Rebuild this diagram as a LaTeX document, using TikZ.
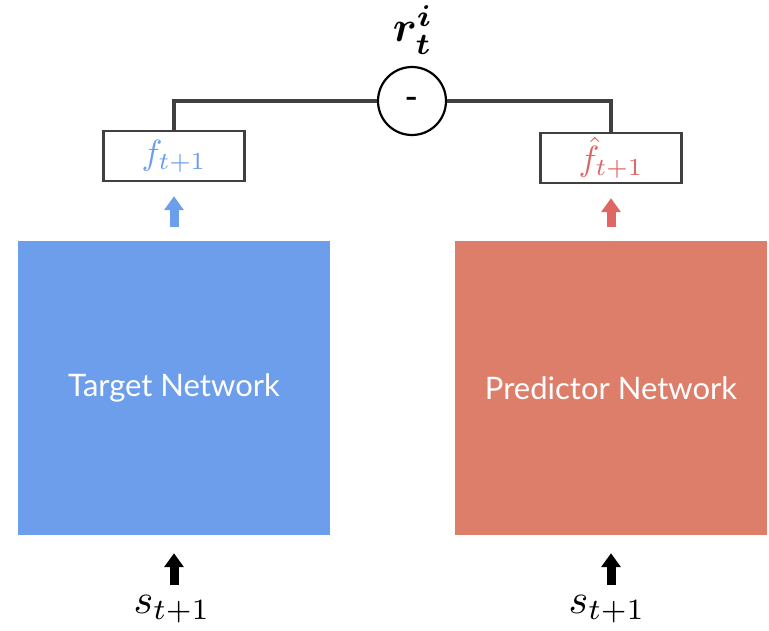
\documentclass[tikz,border=0pt]{standalone}
\usepackage{fontspec}
\usepackage{amsmath}
\newfontfamily\lbl{Lato}
\usetikzlibrary{arrows.meta}
\definecolor{tblue}{HTML}{6D9EEB}
\definecolor{pred}{HTML}{DD7E6B}
\definecolor{fred}{HTML}{E06666}
\definecolor{edge}{HTML}{404040}
\tikzset{
  netbox/.style={minimum width=312pt,minimum height=294pt,inner sep=0pt,text=white,font=\lbl\fontsize{31}{36}\selectfont},
  fbox/.style={draw=edge,line width=2.4pt,minimum width=141pt,minimum height=50pt,inner sep=0pt,fill=white},
  blockarr/.style={line width=9pt,-{Triangle[width=19pt,length=14pt]},shorten <=14pt,shorten >=14pt},
  conn/.style={draw=edge,line width=3.4pt},
  mathlbl/.style={inner sep=0pt}
}
\begin{document}
\begin{tikzpicture}[x=1pt,y=-1pt]
\useasboundingbox[fill=white] (0,0) rectangle (769,630);
\node[netbox,fill=tblue] (tn) at (174,388) {Target Network};
\node[netbox,fill=pred] (pn) at (611,388) {Predictor Network};
\node[fbox] (fl) at (174,156) {\scalebox{3.5}{$\color{tblue}f_{t+1}$}};
\node[fbox] (fr) at (611,158) {\scalebox{3.5}{$\color{fred}\hat f_{t+1}$}};
\node[circle,draw=black,line width=2.2pt,minimum size=68pt,inner sep=0pt,fill=white] (d) at (412,101) {\scalebox{3}{\textbf{-}}};
\node[mathlbl] (r) at (413,30) {\scalebox{4.3}{$\boldsymbol{r_t^i}$}};
\node[mathlbl] (sl) at (172,609) {\scalebox{4.2}{$s_{t+1}$}};
\node[mathlbl] (sr) at (607,609) {\scalebox{4.2}{$s_{t+1}$}};
\draw[conn] (fl.north) |- (d.west);
\draw[conn] (fr.north) |- (d.east);
\draw[blockarr,tblue] (tn.north) -- (fl.south);
\draw[blockarr,fred] (pn.north) -- (fr.south);
\draw[blockarr,black,shorten <=10pt,shorten >=18pt] (sl.north -| tn.south) -- (tn.south);
\draw[blockarr,black,shorten <=10pt,shorten >=18pt] (sr.north -| pn.south) -- (pn.south);
\end{tikzpicture}
\end{document}
